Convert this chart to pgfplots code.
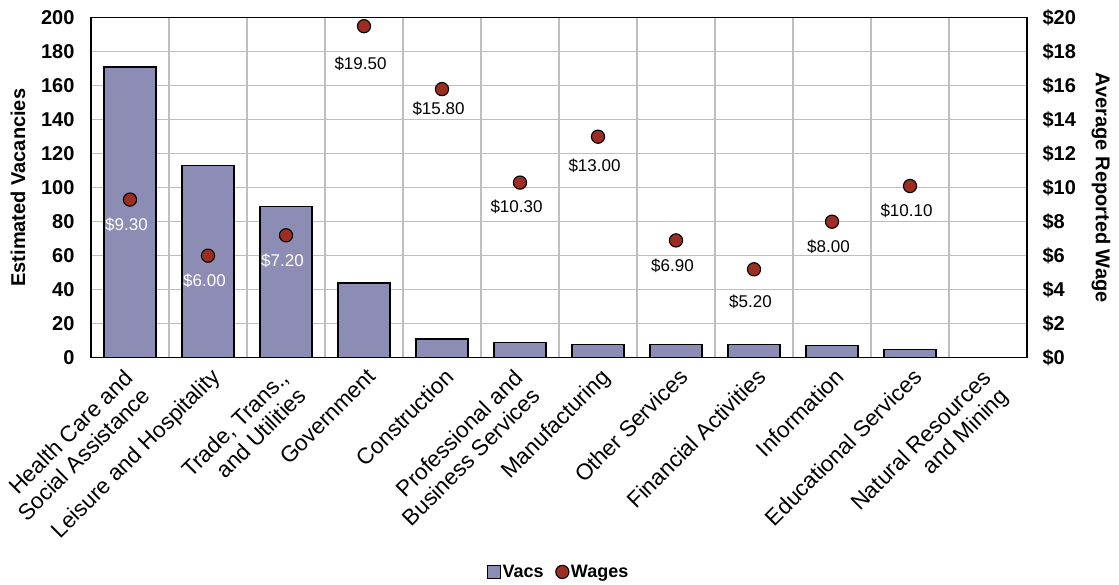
\documentclass[border=0pt]{standalone}
\usepackage{pgfplots}
\pgfplotsset{compat=1.18}
\usepackage{pgfplotstable}
\usepackage{fontspec}
\setmainfont{Liberation Sans}

\definecolor{barcol}{HTML}{8C8CB4}
\definecolor{wagecol}{HTML}{9B2D22}
\definecolor{gridcol}{HTML}{BEBEBE}

% vacancies by industry
\pgfplotstableread{
x vacs
0 171
1 113
2 89
3 44
4 11
5 9
6 8
7 8
8 8
9 7
10 5
11 0
}\vacdata

% average reported wage; inbar = label sits inside a bar, dy = label drop
\pgfplotstableread{
x wage inbar dy
0 9.3 1 25
1 6.0 1 25.3
2 7.2 1 25
3 19.5 0 38
4 15.8 0 20
5 10.3 0 24.4
6 13.0 0 29
7 6.9 0 25
8 5.2 0 32
9 8.0 0 25
10 10.1 0 25
}\wagedata

\pgfplotsset{
  common/.style={
    scale only axis,
    width=936pt, height=340pt,
    at={(0,0)}, anchor=south west,
    xmin=-0.5, xmax=11.5,
    /pgf/number format/assume math mode=true,
    major tick length=0pt, minor tick length=0pt,
    tick label style={font=\fontsize{20}{24}\selectfont\bfseries},
  }
}

\begin{document}
\begin{tikzpicture}
\begin{axis}[common, name=ax,
  axis line style={black, line width=1.4pt},
  ymin=0, ymax=200, ytick={0,20,...,200},
  ytick pos=left,
  yticklabel style={xshift=-13pt},
  xtick={1,3,4,6,7,8,9,10},
  xticklabels={
    {Leisure and Hospitality},
    {Government},
    {Construction},
    {Manufacturing},
    {Other Services},
    {Financial Activities},
    {Information},
    {Educational Services}},
  extra x ticks={0,2,5,11},
  extra x tick labels={
    {Health Care and\\Social Assistance},
    {Trade, Trans.,\\and Utilities},
    {Professional and\\Business Services},
    {Natural Resources\\and Mining}},
  extra x tick style={xticklabel style={xshift=-7.4pt, yshift=5.6pt}},
  xtick pos=bottom,
  minor xtick={0.5,1.5,...,10.5},
  xminorgrids, ymajorgrids,
  grid style={gridcol, line width=1.3pt},
  minor grid style={gridcol, line width=1.3pt},
  xticklabel style={xshift=1.7pt, yshift=-9pt, rotate=45, anchor=north east,
    align=right, font=\fontsize{22.5}{25}\selectfont, inner sep=0pt},
  ylabel={Estimated Vacancies},
  every axis y label/.style={at={(axis description cs:-0.078,0.5)}, rotate=90,
    anchor=center, font=\fontsize{20}{24}\selectfont\bfseries},
]
\addplot[ybar, bar width=52pt, fill=barcol, draw=black, line width=1.2pt]
  table[x=x, y=vacs] {\vacdata};
\end{axis}

\begin{axis}[common,
  axis x line=none,
  axis y line*=right,
  axis line style={black, line width=1.4pt},
  ymin=0, ymax=20, ytick={0,2,...,20},
  yticklabel={\$\pgfmathprintnumber{\tick}},
  yticklabel style={xshift=12pt},
  ylabel={Average Reported Wage},
  every axis y label/.style={at={(axis description cs:1.079,0.5)}, rotate=-90,
    anchor=center, font=\fontsize{20}{24}\selectfont\bfseries},
  legend style={at={(axis description cs:0.5,-0.630)}, anchor=center, draw=none,
    font=\fontsize{18}{20}\selectfont\bfseries, inner sep=0pt,
    /tikz/every even column/.append style={column sep=10pt}},
  legend columns=2,
  legend cell align=left,
]
\addlegendimage{only marks, mark=square*, mark size=6.5pt,
  mark options={fill=barcol, draw=black, line width=1.1pt}}
\addplot[only marks, mark=*, mark size=6.6pt,
  mark options={fill=wagecol, draw=black, line width=1.1pt},
  point meta=y,
  visualization depends on={\thisrow{inbar} \as \inbar},
  visualization depends on={\thisrow{dy} \as \labdrop},
  nodes near coords={\ifdim\inbar pt>0.5pt\color{white}\fi\$\pgfmathprintnumber[fixed, fixed zerofill, precision=2]{\pgfplotspointmeta}},
  every node near coord/.append style={anchor=center, yshift=-\labdrop pt, xshift=-3.5pt,
    font=\fontsize{17}{20}\selectfont, text=black},
]
  table[x=x, y=wage] {\wagedata};
\legend{Vacs, Wages}
\end{axis}

\pgfresetboundingbox
\path[use as bounding box] ([xshift=-91pt, yshift=-226.3pt]ax.south west)
  rectangle ([xshift=92pt, yshift=17.7pt]ax.north east);
\end{tikzpicture}
\end{document}
